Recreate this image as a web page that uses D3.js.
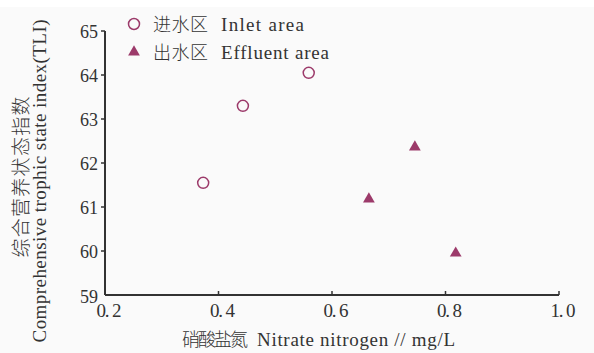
<!DOCTYPE html>
<html>
<head>
<meta charset="utf-8">
<script src="https://cdn.jsdelivr.net/npm/d3@7"></script>
<style>
	body { margin: 0; background: #ffffff; }
	svg text { font-family: "Liberation Serif", "Noto Sans CJK SC", serif; fill: #333; }
	svg text.cjk { font-family: "Noto Sans CJK SC", sans-serif; font-weight: 300; }
</style>
</head>
<body>
<script>
// values
const inletX = [0.373, 0.443, 0.559];
const inletY = [61.55, 63.30, 64.05];
const effluentX = [0.665, 0.746, 0.818];
const effluentY = [61.18, 62.36, 59.95];
const xTicks = [0.2, 0.4, 0.6, 0.8, 1.0];
const yTicks = [59, 60, 61, 62, 63, 64, 65];
const legendCjk = ["进水区", "出水区"];
const legendLatin = ["Inlet area", "Effluent area"];
const xTitle = ["硝酸盐氮", "Nitrate nitrogen // mg/L"];
const yTitle = ["综合营养状态指数", "Comprehensive trophic state index(TLI)"];

const width = 594, height = 353;
const margin = {top: 31, right: 35, bottom: 58, left: 105};
const markColor = "#9c3a6a";

const svg = d3.select("body").append("svg")
	.attr("width", width)
	.attr("height", height);

svg.append("rect")
	.attr("y", 7)
	.attr("width", width)
	.attr("height", height - 7)
	.attr("fill", "#fafafa");

const x = d3.scaleLinear().domain([0.2, 1.0]).range([margin.left, width - margin.right]);
const y = d3.scaleLinear().domain([59, 65]).range([height - margin.bottom, margin.top]);

// text helper; len spaces the string out to the width it has in the original
function label(g, px, py, str, size, opts = {}) {
	const t = g.append("text")
		.attr("transform", `translate(${px},${py}) rotate(${opts.rotate || 0})`)
		.attr("text-anchor", opts.anchor || "start")
		.attr("font-size", size)
		.attr("class", opts.cjk ? "cjk" : null)
		.text(str);
	if (opts.len) t.attr("textLength", opts.len).attr("lengthAdjust", "spacing");
	return t;
}

// axes
const axisColor = "#333";
const gx = svg.append("g");
gx.append("line")
	.attr("x1", x(0.2)).attr("x2", x(1.0))
	.attr("y1", y(59)).attr("y2", y(59))
	.attr("stroke", axisColor).attr("stroke-width", 2);
gx.selectAll(".tick").data(xTicks.slice(1)).join("line")
	.attr("x1", (d) => x(d)).attr("x2", (d) => x(d))
	.attr("y1", y(59)).attr("y2", y(59) - 4)
	.attr("stroke", axisColor).attr("stroke-width", 1.5);
xTicks.forEach((d) => {
	label(gx, x(d) + 4, y(59) + 22, d3.format(".1f")(d).replace(".", ". "), 19, {anchor: "middle", len: 25});
});

const gy = svg.append("g");
gy.append("line")
	.attr("x1", x(0.2)).attr("x2", x(0.2))
	.attr("y1", y(59)).attr("y2", y(65))
	.attr("stroke", axisColor).attr("stroke-width", 2);
gy.selectAll(".tick").data(yTicks.slice(1)).join("line")
	.attr("x1", x(0.2)).attr("x2", x(0.2) - 4)
	.attr("y1", (d) => y(d)).attr("y2", (d) => y(d))
	.attr("stroke", axisColor).attr("stroke-width", 1.5);
yTicks.forEach((d) => {
	label(gy, x(0.2) - 7, y(d) + 7 + (d === 59 ? 1 : 0), d, 18, {anchor: "end"});
});

// axis titles
label(svg, 182, 346, xTitle[0], 18, {cjk: true, len: 66});
label(svg, 257, 346, xTitle[1], 19, {len: 198});
label(svg, 28, 177, yTitle[0], 19, {cjk: true, anchor: "middle", rotate: -90, len: 161});
label(svg, 46, 181, yTitle[1], 19, {anchor: "middle", rotate: -90, len: 323});

// points
svg.append("g")
	.selectAll("circle")
	.data(d3.zip(inletX, inletY))
	.join("circle")
	.attr("cx", (d) => x(d[0]))
	.attr("cy", (d) => y(d[1]))
	.attr("r", 5.5)
	.attr("fill", "none")
	.attr("stroke", markColor)
	.attr("stroke-width", 1.5);

const tri = d3.symbol().type(d3.symbolTriangle).size(60);
svg.append("g")
	.selectAll("path")
	.data(d3.zip(effluentX, effluentY))
	.join("path")
	.attr("transform", (d) => `translate(${x(d[0])},${y(d[1])})`)
	.attr("d", tri)
	.attr("fill", markColor);

// legend
const legend = svg.append("g");
legend.append("circle")
	.attr("cx", 134).attr("cy", 24).attr("r", 5.5)
	.attr("fill", "none").attr("stroke", markColor).attr("stroke-width", 1.5);
legend.append("path")
	.attr("transform", "translate(134,52)")
	.attr("d", tri)
	.attr("fill", markColor);
label(legend, 153, 31, legendCjk[0], 18, {cjk: true, len: 55});
label(legend, 221, 31, legendLatin[0], 19, {len: 83});
label(legend, 153, 59, legendCjk[1], 18, {cjk: true, len: 55});
label(legend, 221, 59, legendLatin[1], 19, {len: 108});
</script>
</body>
</html>
